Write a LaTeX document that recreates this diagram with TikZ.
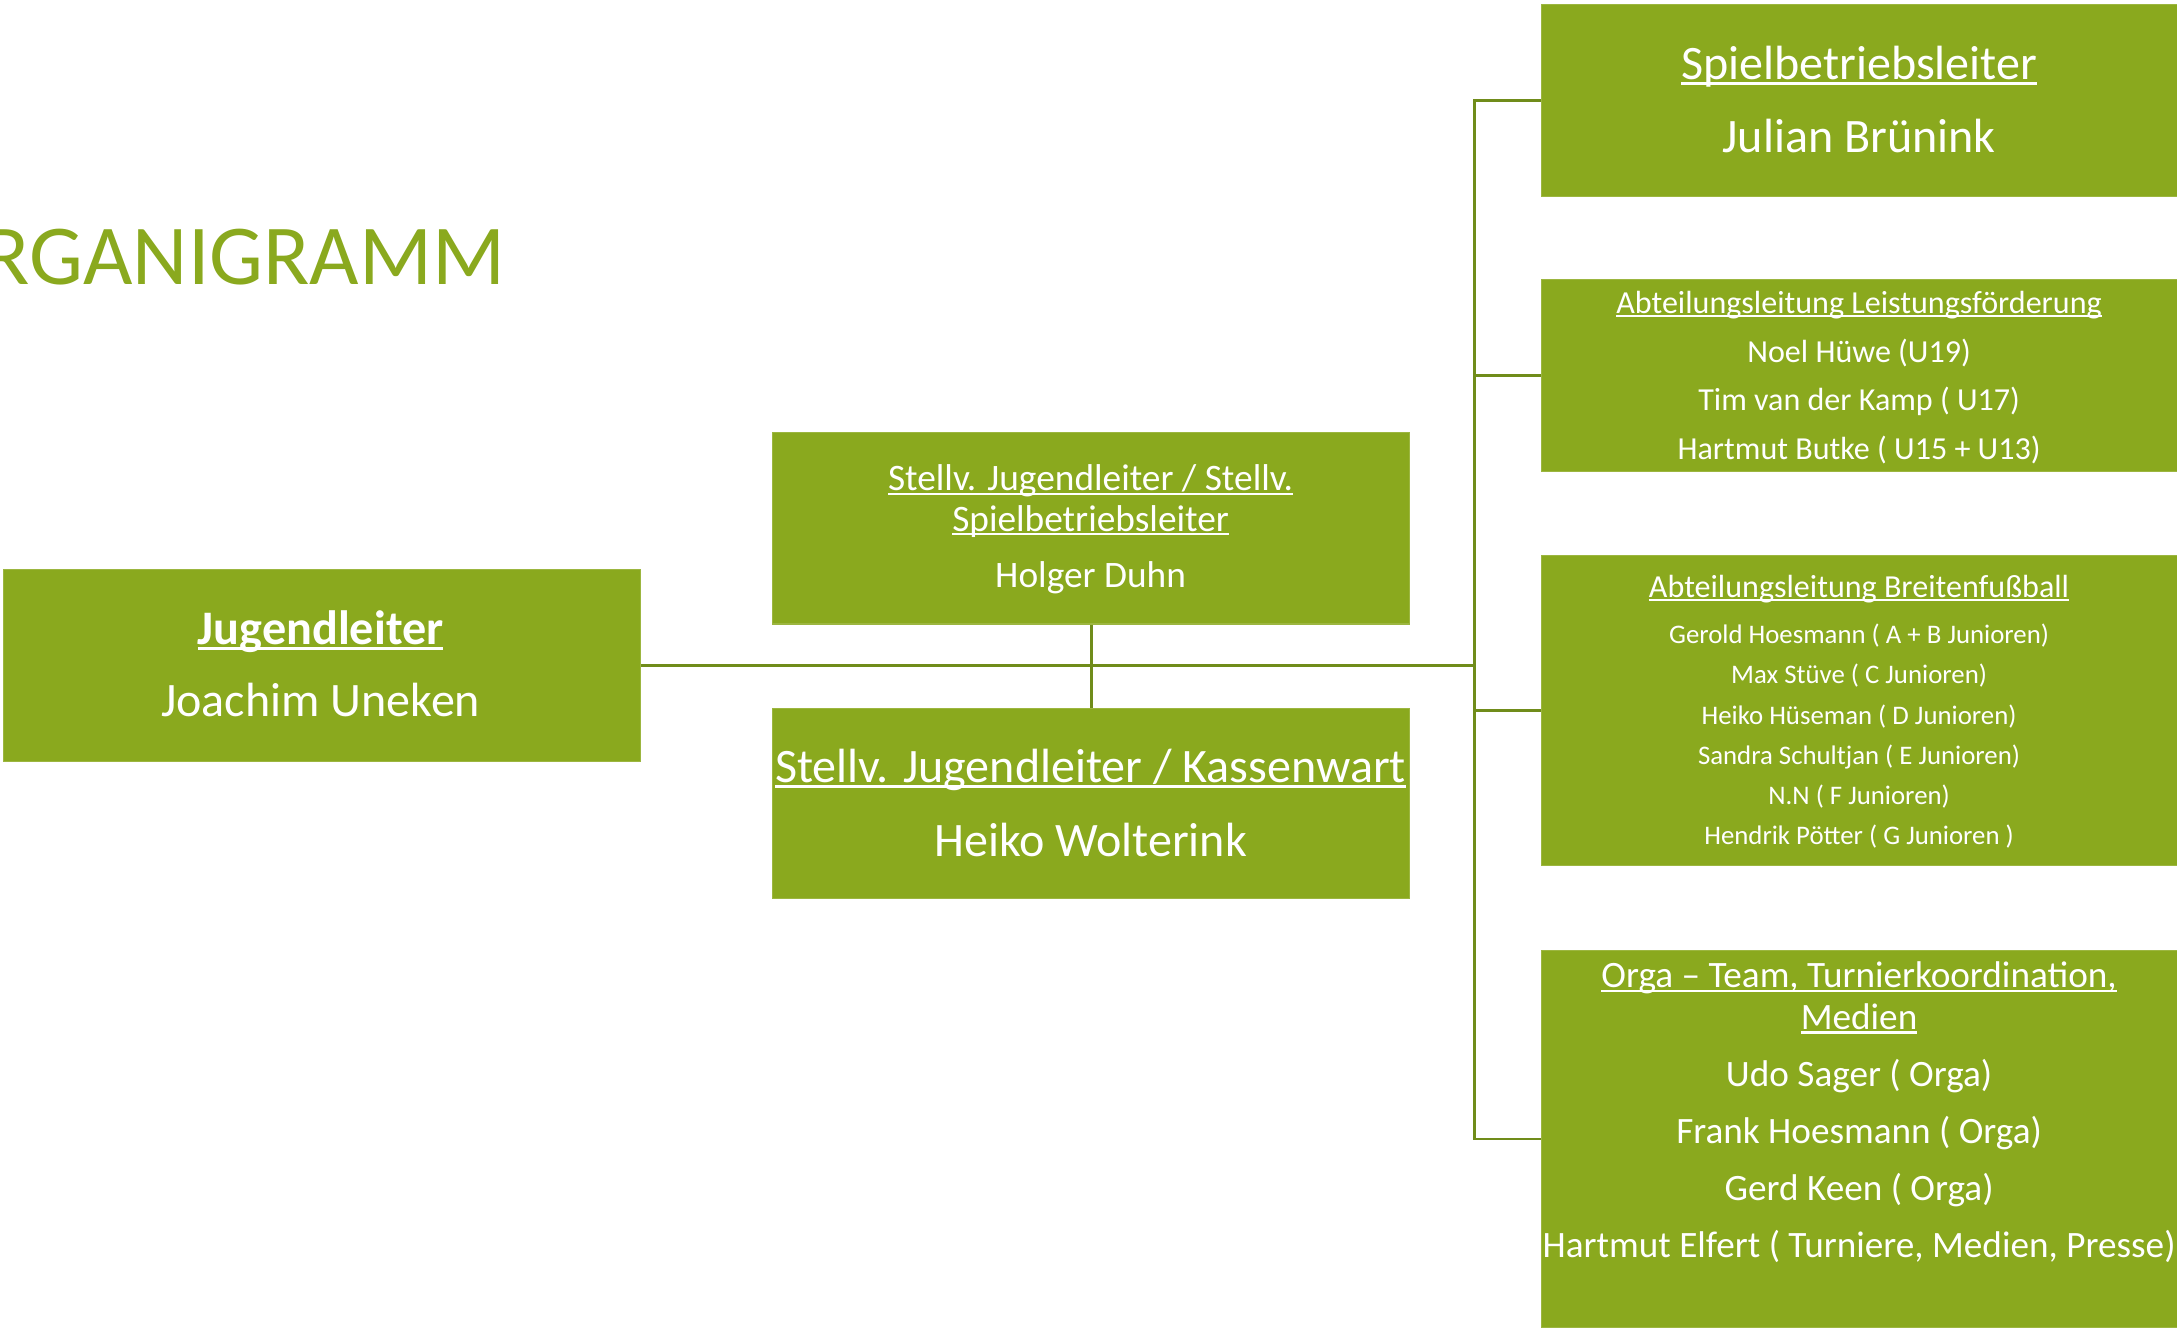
\documentclass[tikz,border=0pt]{standalone}
\usepackage{fontspec}
\setmainfont{Carlito}
\definecolor{boxgreen}{RGB}{138,169,30}
\definecolor{linegreen}{RGB}{112,140,26}
\newcommand\ulx[1]{\setbox0\hbox{#1}\rlap{\rule[-0.11em]{\wd0}{0.06em}}\box0}
\newcommand\fs[1]{\fontsize{#1}{#1}\selectfont}
\tikzset{
  box/.style={fill=boxgreen, draw=boxgreen!85!white, line width=0.8pt, inner sep=0pt, anchor=north west},
  txt/.style={text=white, anchor=base, inner sep=0pt},
  conn/.style={draw=linegreen, line width=2pt}
}
\begin{document}
\begin{tikzpicture}[x=1pt,y=-1pt]
\useasboundingbox (0,0) rectangle (1568,956);
% title
\node[anchor=base east, inner sep=0pt, text=boxgreen, font={\fs{61.5}}] (title) at (364,205) {ORGANIGRAMM};
% boxes
\node[box, minimum width=459pt, minimum height=138pt] (jl) at (2,410) {};
\node[box, minimum width=459pt, minimum height=138pt] (hd) at (556,311) {};
\node[box, minimum width=459pt, minimum height=137pt] (hw) at (556,510) {};
\node[box, minimum width=458pt, minimum height=138pt] (sb) at (1110,3) {};
\node[box, minimum width=458pt, minimum height=138pt] (lf) at (1110,201) {};
\node[box, minimum width=458pt, minimum height=223pt] (bf) at (1110,400) {};
\node[box, minimum width=458pt, minimum height=272pt] (og) at (1110,684) {};
% connectors
\coordinate (tx) at (1062,0);
\draw[conn] (jl.east) -- (jl.east -| tx);
\draw[conn] (sb.west) -| (tx |- og.west) -- (og.west);
\draw[conn] (lf.west) -- (lf.west -| tx);
\draw[conn] (bf.west) -- (bf.west -| tx);
\draw[conn] (hd.south) -- (hw.north);
% Jugendleiter
\node[txt, font={\fs{34.7}\bfseries}] (jl1) at (231,464) {\ulx{Jugendleiter}};
\node[txt, font={\fs{34.6}}] (jl2) at (231,516) {Joachim Uneken};
% Holger
\node[txt, font={\fs{26.9}}] (hd1) at (785.5,353.5) {\ulx{Stellv. Jugendleiter / Stellv.}};
\node[txt, font={\fs{26.9}}] (hd2) at (785.5,382.5) {\ulx{Spielbetriebsleiter}};
\node[txt, font={\fs{26.9}}] (hd3) at (785.5,423.5) {Holger Duhn};
% Heiko
\node[txt, font={\fs{34.6}}] (hw1) at (785.5,563.5) {\ulx{Stellv. Jugendleiter / Kassenwart}};
\node[txt, font={\fs{34.6}}] (hw2) at (785.5,617) {Heiko Wolterink};
% Spielbetriebsleiter
\node[txt, font={\fs{34.6}}] (sb1) at (1339,57.5) {\ulx{Spielbetriebsleiter}};
\node[txt, font={\fs{34.6}}] (sb2) at (1339,110) {Julian Brünink};
% Leistungsfoerderung
\node[txt, font={\fs{23.1}}] (lf1) at (1339,226) {\ulx{Abteilungsleitung Leistungsförderung}};
\node[txt, font={\fs{23.1}}] (lf2) at (1339,261) {Noel Hüwe (U19)};
\node[txt, font={\fs{23.1}}] (lf3) at (1339,296) {Tim van der Kamp ( U17)};
\node[txt, font={\fs{23.1}}] (lf4) at (1339,331) {Hartmut Butke ( U15 + U13)};
% Breitenfussball
\node[txt, font={\fs{23.1}}] (bf1) at (1339,430.5) {\ulx{Abteilungsleitung Breitenfußball}};
\node[txt, font={\fs{19.3}}] (bf2) at (1339,463.5) {Gerold Hoesmann ( A + B Junioren)};
\node[txt, font={\fs{19.3}}] (bf3) at (1339,492.5) {Max Stüve ( C Junioren)};
\node[txt, font={\fs{19.3}}] (bf4) at (1339,521.5) {Heiko Hüseman ( D Junioren)};
\node[txt, font={\fs{19.3}}] (bf5) at (1339,550.5) {Sandra Schultjan ( E Junioren)};
\node[txt, font={\fs{19.3}}] (bf6) at (1339,579.5) {N.N ( F Junioren)};
\node[txt, font={\fs{19.3}}] (bf7) at (1339,608.5) {Hendrik Pötter ( G Junioren )};
% Orga
\node[txt, font={\fs{26.8}}] (og1) at (1339,711.5) {\ulx{Orga – Team, Turnierkoordination,}};
\node[txt, font={\fs{26.8}}] (og2) at (1339,741.5) {\ulx{Medien}};
\node[txt, font={\fs{26.8}}] (og3) at (1339,782.5) {Udo Sager ( Orga)};
\node[txt, font={\fs{26.8}}] (og4) at (1339,823.5) {Frank Hoesmann ( Orga)};
\node[txt, font={\fs{26.8}}] (og5) at (1339,864.5) {Gerd Keen ( Orga)};
\node[txt, font={\fs{26.8}}] (og6) at (1339,905.5) {Hartmut Elfert ( Turniere, Medien, Presse)};
\end{tikzpicture}
\end{document}
